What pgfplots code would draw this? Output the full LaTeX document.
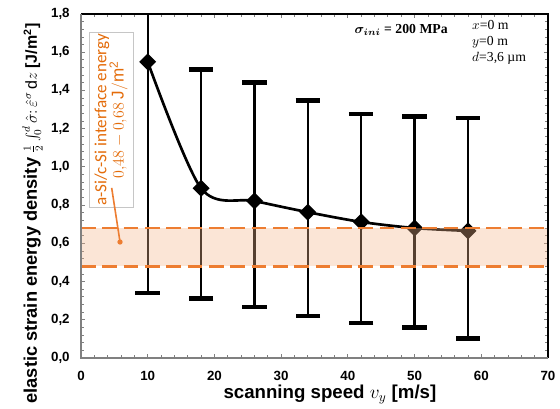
\documentclass[border=0pt]{standalone}
\usepackage{pgfplots}
\pgfplotsset{compat=1.18}
\usepackage{fontspec}
\setmainfont{Liberation Sans}
\newfontfamily\calib{Carlito}
\newfontfamily\serifrm{Liberation Serif}

\definecolor{band}{RGB}{244,181,138}
\definecolor{orng}{RGB}{237,125,49}
\definecolor{orngtxt}{RGB}{228,108,10}
\definecolor{axgray}{RGB}{128,128,128}

% speed, mean energy, +err, -err
\pgfplotstableread{
x    y      ep     em
10   1.55   1.21   1.21
18   0.888  0.620  0.576
26   0.822  0.619  0.555
34   0.763  0.583  0.543
42   0.712  0.564  0.529
50   0.680  0.583  0.521
58   0.665  0.590  0.564
}\energy

\begin{document}
\begin{tikzpicture}
\begin{axis}[
    scale only axis,
    width=350.25pt, height=258pt,
    xmin=0, xmax=70, ymin=0, ymax=1.8,
    xtick={0,10,...,70},
    ytick={0,0.2,...,1.81},
    minor x tick num=4,
    minor y tick num=4,
    tick align=inside,
    major tick length=3pt,
    minor tick length=2pt,
    tick style={axgray, line width=0.6pt},
    axis line style={draw=none},
    clip mode=individual,
    /pgf/number format/assume math mode=true,
    ticklabel style={font=\fontsize{10}{12}\selectfont\bfseries},
    yticklabel style={/pgf/number format/use comma,
        /pgf/number format/fixed,
        /pgf/number format/fixed zerofill,
        /pgf/number format/precision=1,
        xshift=-5pt},
    xticklabel style={yshift=-6pt},
    xlabel={scanning speed $v_y$ [m/s]},
    xlabel style={at={(rel axis cs:0.533,0)}, anchor=base, yshift=-30.5pt,
        font=\fontsize{14}{16}\selectfont\bfseries},
    ylabel={{\fontsize{13.7}{15}\selectfont elastic strain energy density} $\frac{1}{2}\int_0^d \hat{\sigma}\colon \hat{\varepsilon}^{\sigma}\,\mathrm{d}z$ [J/m\textsuperscript{2}]},
    ylabel style={at={(rel axis cs:0,0.42)}, anchor=base, yshift=33pt,
        font=\fontsize{12}{14}\selectfont\bfseries},
]
% error bars
\addplot[draw=none, mark=none,
    error bars/.cd, y dir=both, y explicit,
    error bar style={black, line width=1.7pt},
    error mark options={black, line width=3.5pt, mark size=9.2pt, rotate=90}]
    table[x=x, y=y, y error plus=ep, y error minus=em] {\energy};
% mean curve
\addplot[black, line width=2pt, smooth, tension=0.5,
    mark=square*, mark size=3.5pt, mark options={rotate=45, solid}]
    table[x=x, y=y] {\energy};
% interface energy band
\addplot[draw=none, fill=band, fill opacity=0.35]
    coordinates {(0,0.48) (70,0.48) (70,0.68) (0,0.68)} -- cycle;
\addplot[orng, line width=2pt, dash pattern=on 11pt off 5pt]
    coordinates {(0,0.48) (70,0.48)};
\addplot[orng, line width=2pt, dash pattern=on 11pt off 5pt]
    coordinates {(0,0.68) (70,0.68)};

% axis frame
\draw[black, line width=1.3pt] (rel axis cs:0,1) -- (rel axis cs:1,1) -- (rel axis cs:1,0);
\draw[axgray, line width=1.6pt] (rel axis cs:0,1) -- (rel axis cs:0,0) -- (rel axis cs:1,0);

% annotation
\node[rotate=90, draw=gray!45, fill=white, text=orngtxt, align=center,
      minimum width=127pt, minimum height=33pt, inner sep=1pt,
      font=\calib\fontsize{12.8}{13}\selectfont]
    at (axis cs:4.5,1.246)
    {a-Si/c-Si interface energy\\$0{,}48-0{,}68\ \mathrm{J/m^2}$};
\draw[orng, line width=1.2pt] (axis cs:4.6,0.89) -- (axis cs:5.85,0.607);
\fill[orng] (axis cs:5.85,0.607) circle (2pt);

\node[anchor=west, font=\serifrm\fontsize{10.3}{12}\selectfont\bfseries]
    at (axis cs:40.3,1.717) {{\boldmath$\sigma_{ini}$} = 200 MPa};
\node[anchor=north west, align=left, inner sep=0pt,
      font=\serifrm\fontsize{10.3}{12.2}\selectfont]
    at (axis cs:58.6,1.77) {$x$=0 m\\$y$=0 m\\$d$=3,6 µm};

\coordinate (SW) at (rel axis cs:0,0);
\coordinate (NE) at (rel axis cs:1,1);
\end{axis}
\pgfresetboundingbox
\path ([shift={(-60.75pt,-38.25pt)}]SW) rectangle ([shift={(9pt,10.5pt)}]NE);
\end{tikzpicture}
\end{document}
